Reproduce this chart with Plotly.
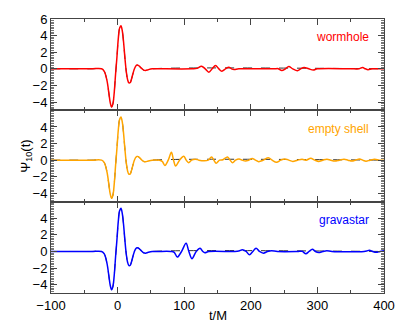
import plotly.graph_objects as go
from plotly.subplots import make_subplots

# main ringdown pulse (shared by all three models)
t_main = [-100, -40, -24, -20, -16, -13, -11, -9, -7, -5, -3, -1, 1, 3, 5, 7, 9, 11, 13, 15,
          17, 19, 21, 23, 25, 27, 29, 31, 33, 36, 39, 42, 46, 52]
psi_main = [0, 0, 0, -0.3, -1.4, -3.0, -4.1, -4.6, -4.2, -2.8, -0.6, 1.4, 3.6, 4.9, 5.2, 4.6, 3.2, 1.3, -0.3, -1.3,
            -1.7, -1.65, -1.2, -0.6, -0.05, 0.3, 0.45, 0.42, 0.3, 0.05, -0.15, -0.2, -0.1, 0]

# echoes after the main pulse
t_worm = [60, 112, 119, 126, 131.5, 137, 142, 147, 152, 156.5, 162, 167, 171, 175, 182, 235, 241, 246.5, 252,
          257, 263, 270, 275, 280, 287, 294, 300, 355, 362, 368, 372, 376, 382, 400]
psi_worm = [0, 0, 0.05, 0.32, 0, -0.4, 0, 0.4, 0, -0.28, 0, 0.2, 0, -0.08, 0, 0, 0.02, -0.2, 0,
            0.28, 0, -0.22, 0, 0.15, 0, -0.15, 0, 0, 0, 0.15, 0, -0.1, 0, 0]

t_shell = [60, 63, 67, 71, 76, 80.8, 84, 87.2, 93, 99.4, 103, 106.7, 111, 116.5, 122, 130, 136, 141, 144.5,
           148, 153, 158, 165, 169, 172.7, 177, 182.4, 187, 192, 197, 202, 207, 211.8, 219, 226.4, 232,
           238.7, 245, 250.9, 257, 263, 270, 277, 283, 290, 296, 302, 308, 314.4, 320, 326, 333, 340,
           346, 352, 357, 363.3, 368, 373, 379, 386, 393, 400]
psi_shell = [0, 0, -0.15, -0.63, 0, 0.94, 0, -0.7, 0, 0.47, 0, -0.3, 0, 0.12, 0, -0.08, 0, 0.38, 0,
             -0.38, 0, 0.05, 0.38, 0, -0.3, 0, 0.15, 0, -0.1, 0, 0.2, 0, -0.18, 0, 0.3, 0,
             -0.25, 0, 0.15, 0, -0.15, 0, 0.1, 0, 0.22, 0, -0.15, 0, 0.12, 0, -0.1, 0, 0.1,
             0, -0.1, 0, 0.15, 0, -0.12, 0, 0.1, 0, 0]

t_grav = [60, 80, 85, 89.6, 96, 102.8, 107, 111.6, 118, 123.8, 128, 131, 137, 175, 182, 187.4, 193, 198,
          203, 207.9, 213, 219, 225, 231, 240, 270, 277, 282.7, 287.5, 292.4, 297, 302, 308, 314, 322,
          370, 374, 378, 383, 388, 394, 400]
psi_grav = [0, 0, -0.1, -0.67, 0, 0.98, 0, -0.86, 0, 0.39, 0, -0.15, 0, 0, 0.05, 0.2, 0, -0.4,
            0, 0.4, 0, -0.2, 0, 0.1, 0, 0, 0.02, -0.27, 0, 0.27, 0, -0.12, 0, 0.1, 0,
            0, 0.05, 0.15, 0, -0.1, 0, 0.1]

# black-hole reference (dashed): the main pulse and nothing after it
t_ref = t_main + [400]
psi_ref = psi_main + [0]

models = [("wormhole", "#ff0000", t_worm, psi_worm),
          ("empty shell", "#ffa500", t_shell, psi_shell),
          ("gravastar", "#0000ff", t_grav, psi_grav)]

fig = make_subplots(rows=3, cols=1, shared_xaxes=True, vertical_spacing=0)

for i, (name, color, t_tail, psi_tail) in enumerate(models):
    row = i + 1
    fig.add_trace(go.Scatter(x=t_ref, y=psi_ref, mode="lines", line=dict(color="#333333", width=1, dash="dash"),
                             line_shape="spline", showlegend=False), row=row, col=1)
    fig.add_trace(go.Scatter(x=t_main + t_tail, y=psi_main + psi_tail, mode="lines",
                             line=dict(color=color, width=1.5), line_shape="spline", showlegend=False),
                  row=row, col=1)
    fig.add_annotation(text=name, x=0.96, y=0.8, xref=f"x{'' if row == 1 else row} domain",
                       yref=f"y{'' if row == 1 else row} domain", xanchor="right", yanchor="middle",
                       showarrow=False, font=dict(color=color, size=12))

axcol = "#444444"
fig.update_xaxes(range=[-100, 400], dtick=100, showline=True, linecolor=axcol, linewidth=1, mirror="ticks",
                 ticks="inside", ticklen=6, tickcolor=axcol, tickwidth=1, showgrid=False, zeroline=False,
                 minor=dict(dtick=50, ticks="inside", ticklen=3, tickcolor=axcol))
fig.update_yaxes(range=[-5, 6], showline=True, linecolor=axcol, linewidth=1, mirror="ticks",
                 ticks="inside", ticklen=6, tickcolor=axcol, tickwidth=1, showgrid=False, zeroline=False,
                 tickvals=[-4, -2, 0, 2, 4],
                 minor=dict(dtick=0.2, ticks="inside", ticklen=3, tickcolor="#777777"))
fig.update_yaxes(tickvals=[-4, -2, 0, 2, 4, 6], row=1, col=1)

fig.add_annotation(text="Ψ<sub>10</sub>(t)", x=-0.076, y=0.5, xref="paper", yref="paper", textangle=-90,
                   showarrow=False, xanchor="center", yanchor="middle", font=dict(size=13))
fig.add_annotation(text="t/M", x=0.5, y=-0.083, xref="paper", yref="paper",
                   showarrow=False, xanchor="center", yanchor="middle", font=dict(size=13))

fig.update_layout(width=407, height=329, margin=dict(l=51, r=15, t=14, b=36),
                  plot_bgcolor="white", paper_bgcolor="white",
                  font=dict(family="Liberation Sans, Arial", size=13, color="black"))

# page body has a default margin; drop it so the figure sits at the window's corner
fig.write_html("out.html", config={"displayModeBar": False},
               post_script="document.body.style.margin='0';document.body.style.padding='0';")
